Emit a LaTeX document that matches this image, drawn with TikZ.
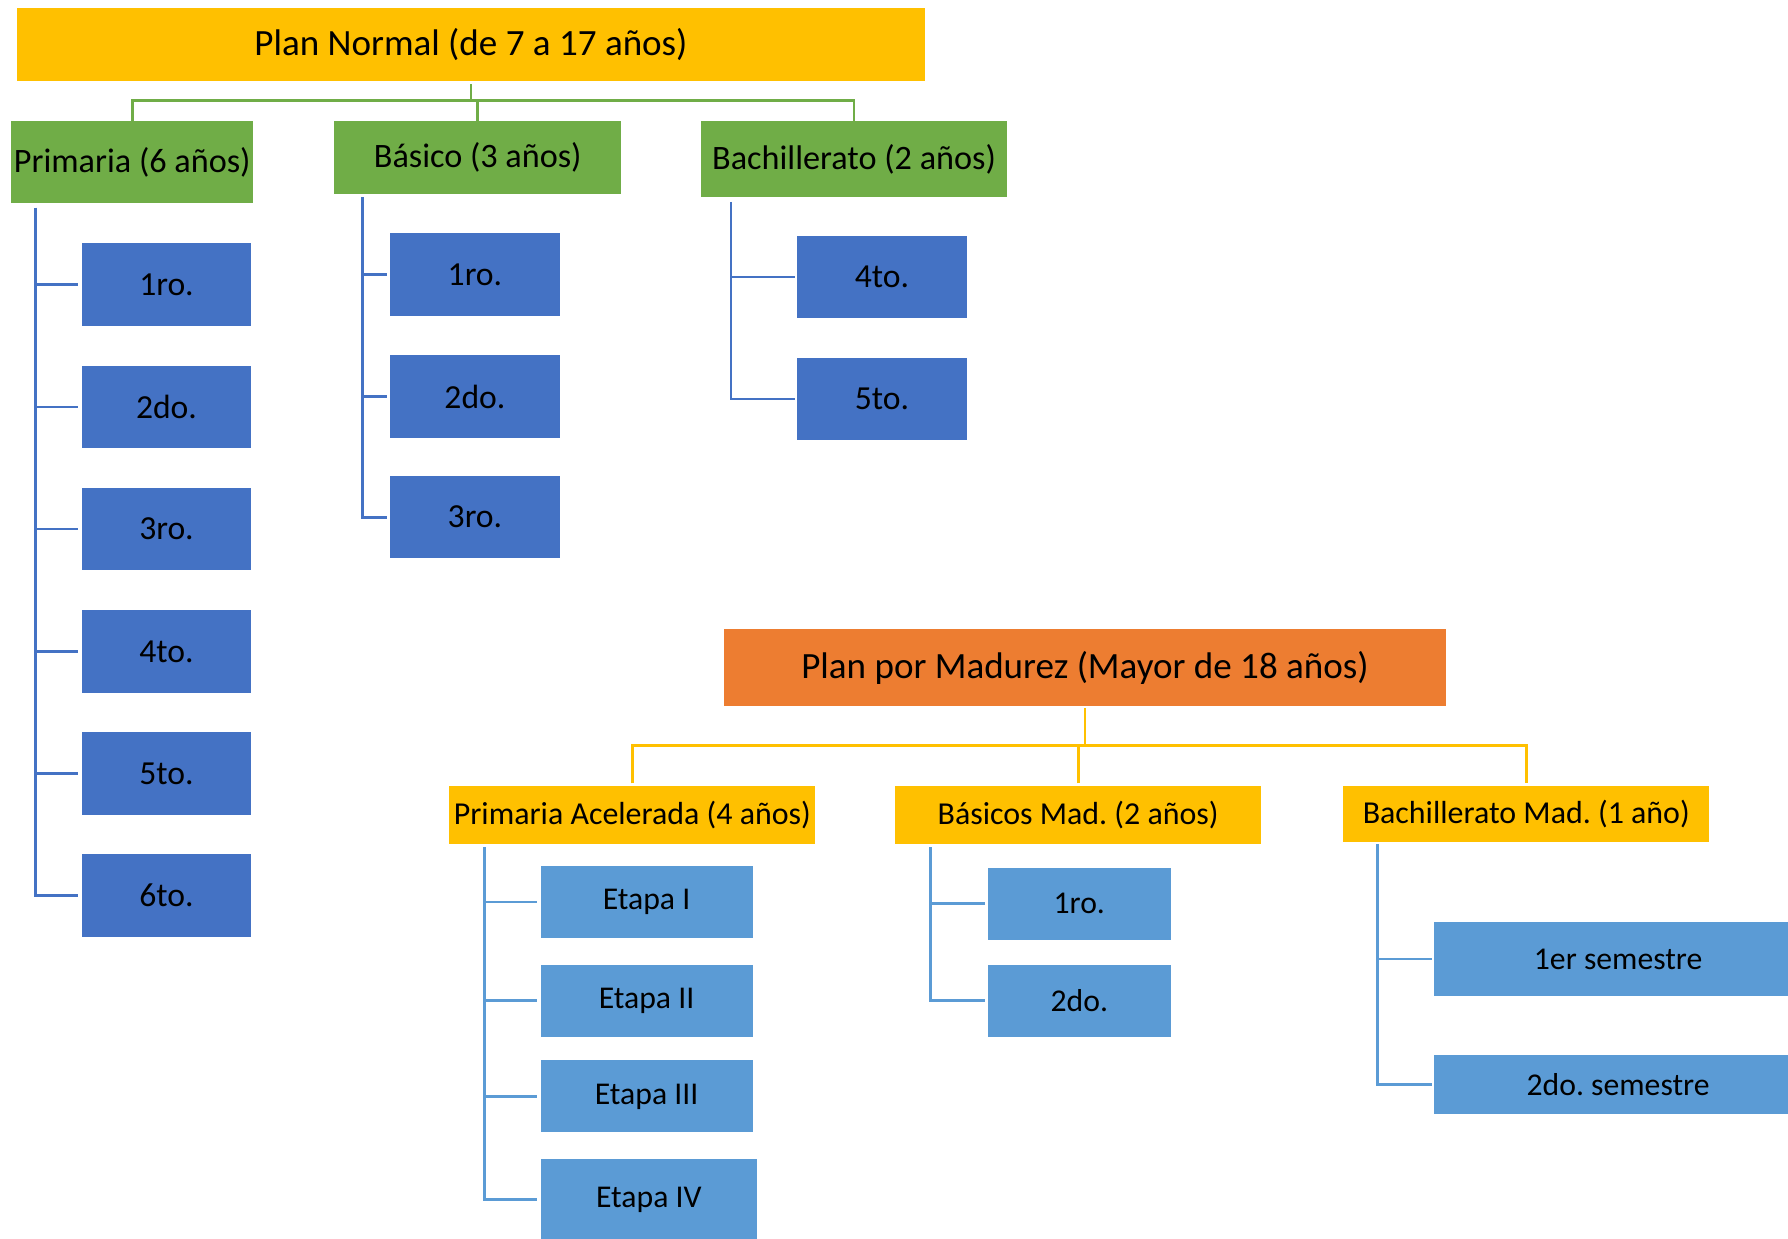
\documentclass[tikz,border=0pt]{standalone}
\usepackage{fontspec}
\setmainfont{Carlito}
\frenchspacing
\definecolor{cYel}{HTML}{FFC000}
\definecolor{cGrn}{HTML}{70AD47}
\definecolor{cBlu}{HTML}{4472C4}
\definecolor{cOra}{HTML}{ED7D31}
\definecolor{cLbl}{HTML}{5B9BD5}
\begin{document}
\begin{tikzpicture}[x=0.5pt,y=-0.5pt,
  bx/.style={rectangle,inner sep=0pt,outer sep=0pt,text=black,align=center},
  titlebox/.style={bx,font=\fontsize{16.25}{19}\selectfont},
  greenbox/.style={bx,fill=cGrn,font=\fontsize{15}{18}\selectfont},
  blueleaf/.style={bx,fill=cBlu,minimum height=36.25pt,font=\fontsize{14.75}{17}\selectfont},
  yelbox/.style={bx,fill=cYel,minimum width=160.5pt,font=\fontsize{14}{17}\selectfont},
  lbleaf/.style={bx,fill=cLbl,font=\fontsize{13.9}{16}\selectfont},
  gline/.style={draw=cGrn,line width=1.2pt},
  bline/.style={draw=cBlu,line width=1.2pt},
  yline/.style={draw=cYel,line width=1.2pt},
  lline/.style={draw=cLbl,line width=1.2pt}]
\useasboundingbox (0,0) rectangle (1568,1086);
\clip (0,0) rectangle (1568,1086);
\fill[white] (0,0) rectangle (1568,1086);

% ---------- Plan Normal ----------
\node[titlebox,fill=cYel,minimum width=398pt,minimum height=32pt] (pn) at (413,39) {Plan Normal (de 7 a 17 años)};
\node[greenbox,minimum width=106pt,minimum height=36pt] (prim) at (116,142) {Primaria (6 años)};
\node[greenbox,minimum width=126pt,minimum height=32pt] (bas) at (419,138) {Básico (3 años)};
\node[greenbox,minimum width=134pt,minimum height=33.5pt] (bach) at (749,139.5) {Bachillerato (2 años)};

\coordinate (gbar) at (0,88);
\draw[gline] ([yshift=-1.5pt]pn.south) -- (pn.south |- gbar);
\draw[gline] (prim.north) -- (prim.north |- gbar) -| (bach.north);
\draw[gline] (bas.north) -- (bas.north |- gbar);

% Primaria leaves
\node[blueleaf,minimum width=74pt] (p1) at (146,249.5) {1ro.};
\node[blueleaf,minimum width=74pt] (p2) at (146,357) {2do.};
\node[blueleaf,minimum width=74pt] (p3) at (146,464) {3ro.};
\node[blueleaf,minimum width=74pt] (p4) at (146,571.5) {4to.};
\node[blueleaf,minimum width=74pt] (p5) at (146,678.5) {5to.};
\node[blueleaf,minimum width=74pt] (p6) at (146,785.5) {6to.};
\coordinate (ptr) at (31,182);
\draw[bline] (ptr) |- ([xshift=-2pt]p6.west);
\foreach \c in {p1,p2,p3,p4,p5}{\draw[bline] (ptr |- \c.west) -- ([xshift=-2pt]\c.west);}

% Basico leaves
\node[blueleaf,minimum width=74.5pt] (b1) at (416.5,241) {1ro.};
\node[blueleaf,minimum width=74.5pt] (b2) at (416.5,348) {2do.};
\node[blueleaf,minimum width=74.5pt] (b3) at (416.5,453.5) {3ro.};
\coordinate (btr) at (318,173);
\draw[bline] (btr) |- ([xshift=-1.5pt]b3.west);
\foreach \c in {b1,b2}{\draw[bline] (btr |- \c.west) -- ([xshift=-1.5pt]\c.west);}

% Bachillerato leaves
\node[blueleaf,minimum width=74.5pt] (h1) at (773.5,243) {4to.};
\node[blueleaf,minimum width=74.5pt] (h2) at (773.5,350) {5to.};
\coordinate (htr) at (641,177);
\draw[bline] (htr) |- ([xshift=-1pt]h2.west);
\draw[bline] (htr |- h1.west) -- ([xshift=-1pt]h1.west);

% ---------- Plan por Madurez ----------
\node[titlebox,fill=cOra,minimum width=316.5pt,minimum height=33.5pt] (pm) at (951.5,585.5) {Plan por Madurez (Mayor de 18 años)};
\node[yelbox,minimum height=25.5pt] (pa) at (554.5,714.5) {Primaria Acelerada (4 años)};
\node[yelbox,minimum height=25.5pt] (bm) at (945.5,714.5) {Básicos Mad. (2 años)};
\node[yelbox,minimum height=24.5pt] (bcm) at (1338.5,713.5) {Bachillerato Mad. (1 año)};

\coordinate (ybar) at (0,654);
\draw[yline] ([yshift=-1pt]pm.south) -- (pm.south |- ybar);
\draw[yline] ([yshift=1pt]pa.north) -- (pa.north |- ybar) -| ([yshift=1pt]bcm.north);
\draw[yline] ([yshift=1pt]bm.north) -- (bm.north |- ybar);

% Primaria Acelerada leaves
\node[lbleaf,minimum width=93pt,minimum height=31.5pt] (e1) at (567,791) {Etapa I};
\node[lbleaf,minimum width=93pt,minimum height=31.5pt] (e2) at (567,877.5) {Etapa II};
\node[lbleaf,minimum width=93pt,minimum height=31.5pt] (e3) at (567,961.5) {Etapa III};
\node[lbleaf,minimum width=95pt,minimum height=36pt] (e4) at (569,1052) {Etapa IV};
\coordinate (etr) at (425,743);
\draw[lline] (etr) |- ([xshift=-1.5pt]e4.west);
\foreach \c in {e1,e2,e3}{\draw[lline] (etr |- \c.west) -- ([xshift=-1.5pt]\c.west);}

% Basicos Mad. leaves
\node[lbleaf,minimum width=80.5pt,minimum height=31.5pt] (m1) at (946.5,792.5) {1ro.};
\node[lbleaf,minimum width=80.5pt,minimum height=31.5pt] (m2) at (946.5,877.5) {2do.};
\coordinate (mtr) at (816,743);
\draw[lline] (mtr) |- ([xshift=-1pt]m2.west);
\draw[lline] (mtr |- m1.west) -- ([xshift=-1pt]m1.west);

% Bachillerato Mad. leaves
\node[lbleaf,minimum width=161.5pt,minimum height=32.2pt] (s1) at (1419,841) {1er semestre};
\node[lbleaf,minimum width=161.5pt,minimum height=26pt] (s2) at (1419,951) {2do. semestre};
\coordinate (str) at (1208,740);
\draw[lline] (str) |- ([xshift=-1pt]s2.west);
\draw[lline] (str |- s1.west) -- ([xshift=-1pt]s1.west);
\end{tikzpicture}
\end{document}
